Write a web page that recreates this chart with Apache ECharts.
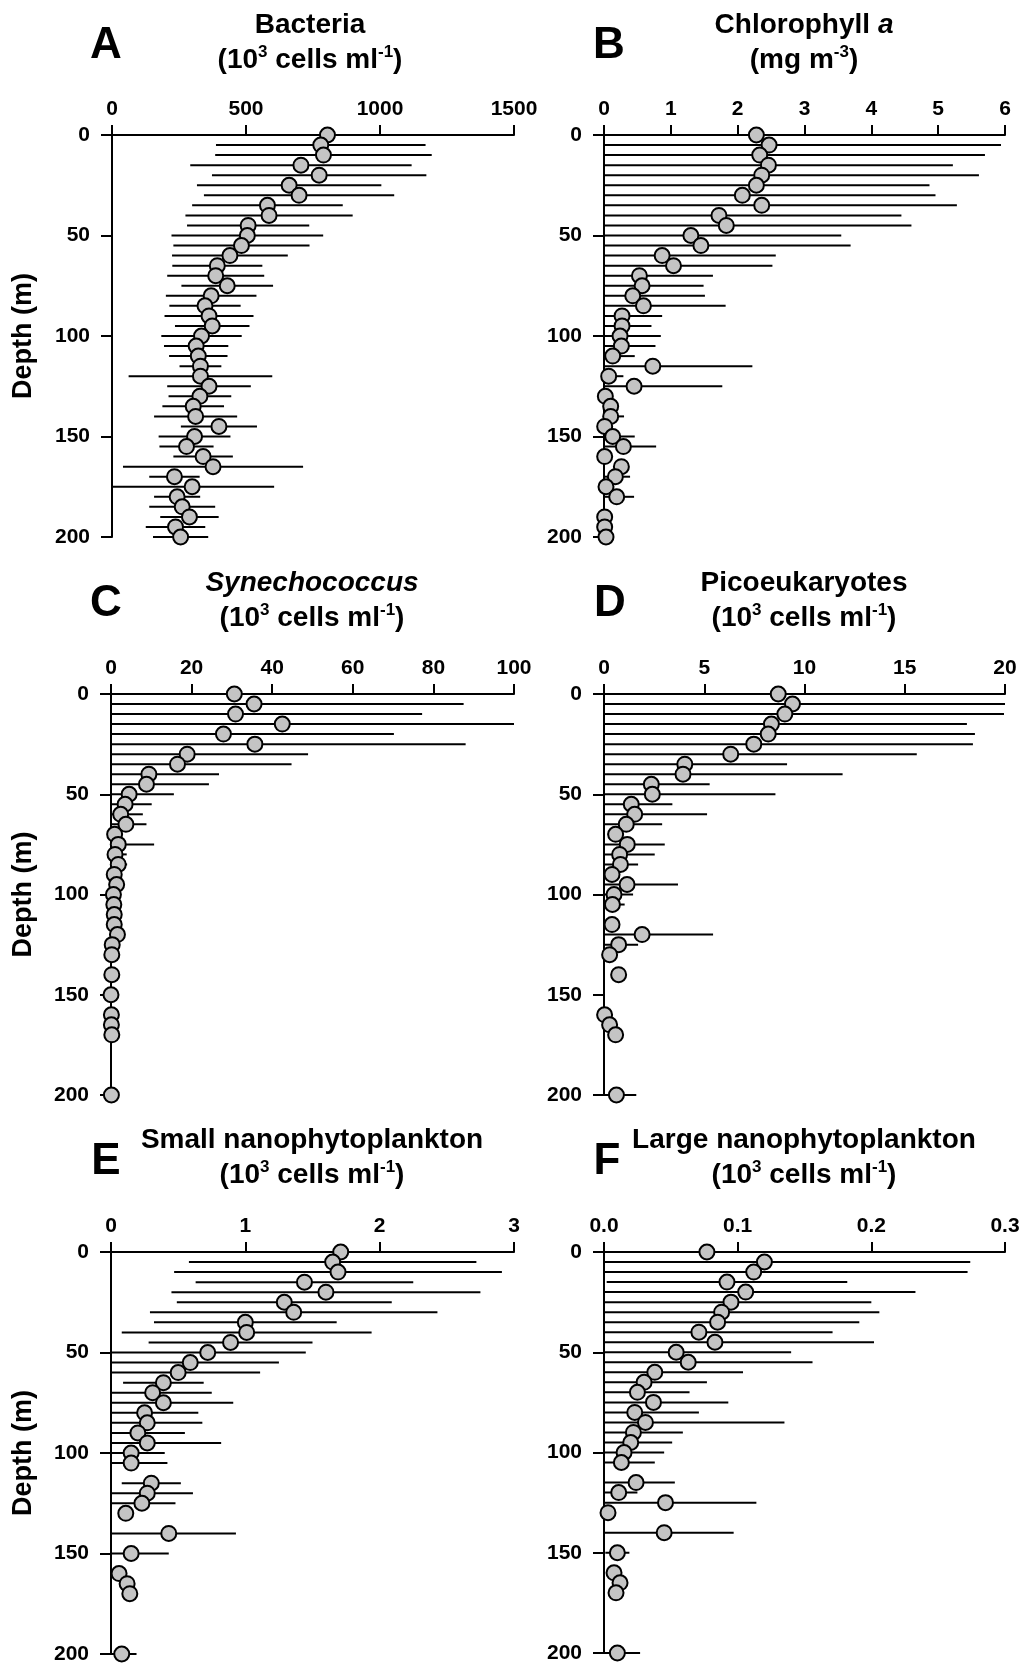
<!DOCTYPE html>
<html>
<head>
<meta charset="utf-8">
<script src="https://cdn.jsdelivr.net/npm/echarts@6.0.0/dist/echarts.min.js"></script>
<style>
html,body{margin:0;padding:0;background:#fff;}
#chart{width:1025px;height:1663px;}
</style>
</head>
<body>
<div id="chart"></div>
<script>
// ---------------- DATA ----------------
// A: Bacteria (10^3 cells ml-1)
var bactDepth = [0,5,10,15,20,25,30,35,40,45,50,55,60,65,70,75,80,85,90,95,100,105,110,115,120,125,130,135,140,145,150,155,160,165,170,175,180,185,190,195,200];
var bactMean  = [804,779,789,705,773,661,698,580,586,508,505,483,440,393,387,430,370,347,362,374,334,314,322,330,330,362,328,303,312,399,308,278,340,377,233,299,243,262,289,237,256];
var bactSd    = [null,391,404,413,400,344,355,281,312,228,283,254,216,168,181,171,169,133,166,139,150,120,109,78,268,156,117,115,155,142,134,101,111,336,94,306,86,123,109,111,103];

// B: Chlorophyll a (mg m-3)
var chlDepth = [0,5,10,15,20,25,30,35,40,45,50,55,60,65,70,75,80,85,90,95,100,105,110,115,120,125,130,135,140,145,150,155,160,165,170,175,180,190,195,200];
var chlMean  = [2.28,2.47,2.33,2.46,2.36,2.28,2.07,2.36,1.72,1.83,1.30,1.45,0.87,1.04,0.53,0.57,0.43,0.59,0.27,0.27,0.24,0.26,0.13,0.73,0.07,0.45,0.02,0.10,0.10,0.01,0.13,0.29,0.01,0.26,0.17,0.03,0.19,0.01,0.01,0.03];
var chlSd    = [null,3.47,3.37,2.76,3.25,2.59,2.89,2.92,2.73,2.77,2.25,2.24,1.70,1.48,1.10,0.92,1.08,1.23,0.60,0.44,0.61,0.51,0.33,1.49,0.22,1.32,0.05,0.08,0.20,0.05,0.33,0.49,0.05,0.10,0.22,0.05,0.26,0.03,0.03,0.05];

// C: Synechococcus (10^3 cells ml-1)
var synDepth = [0,5,10,15,20,25,30,35,40,45,50,55,60,65,70,75,80,85,90,95,100,105,110,115,120,125,130,140,150,160,165,170,200];
var synMean  = [30.6,35.5,30.9,42.5,27.9,35.7,18.9,16.5,9.4,8.8,4.5,3.5,2.4,3.7,0.9,1.8,1.0,1.8,0.8,1.4,0.6,0.7,0.8,0.8,1.6,0.3,0.2,0.2,0.0,0.1,0.1,0.2,0.1];
var synSd    = [44.8,52.0,46.3,57.5,42.3,52.3,30.0,28.3,17.4,15.5,11.1,6.6,5.5,5.1,1.0,8.9,2.9,2.2,1.0,1.0,1.0,1.0,1.0,1.0,1.0,0.5,0.5,0.5,0.5,0.5,0.5,0.5,0.5];

// D: Picoeukaryotes (10^3 cells ml-1)
var picoDepth = [0,5,10,15,20,25,30,35,40,45,50,55,60,65,70,75,80,85,90,95,100,105,115,120,125,130,140,160,165,170,200];
var picoMean  = [8.69,9.40,9.02,8.35,8.19,7.47,6.32,4.03,3.94,2.36,2.41,1.36,1.53,1.11,0.58,1.16,0.78,0.82,0.40,1.15,0.50,0.42,0.40,1.90,0.73,0.28,0.73,0.03,0.28,0.58,0.62];
var picoSd    = [null,10.7,10.93,9.75,10.31,10.93,9.28,5.10,7.96,2.91,6.14,2.05,3.61,1.79,0.4,1.87,1.75,0.88,0.3,2.54,0.95,0.61,0.3,3.54,0.97,0.2,0.3,0.1,0.2,0.3,0.99];

// E: Small nanophytoplankton (10^3 cells ml-1)
var snanoDepth = [0,5,10,15,20,25,30,35,40,45,50,55,60,65,70,75,80,85,90,95,100,105,115,120,125,130,140,150,160,165,170,200];
var snanoMean  = [1.71,1.65,1.69,1.44,1.60,1.29,1.36,1.00,1.01,0.89,0.72,0.59,0.50,0.39,0.31,0.39,0.25,0.27,0.20,0.27,0.15,0.15,0.30,0.27,0.23,0.11,0.43,0.15,0.06,0.12,0.14,0.08];
var snanoSd    = [1.52,1.07,1.22,0.81,1.15,0.80,1.07,0.68,0.93,0.61,0.73,0.66,0.61,0.30,0.44,0.52,0.40,0.41,0.35,0.55,0.25,0.27,0.22,0.34,0.25,0.05,0.50,0.28,0.03,0.03,0.03,0.11];

// F: Large nanophytoplankton (10^3 cells ml-1)
var lnanoDepth = [0,5,10,15,20,25,30,35,40,45,50,55,60,65,70,75,80,85,90,95,100,105,115,120,125,130,140,150,160,165,170,200];
var lnanoMean  = [0.077,0.120,0.112,0.092,0.106,0.095,0.088,0.085,0.071,0.083,0.054,0.063,0.038,0.030,0.025,0.037,0.023,0.031,0.022,0.020,0.015,0.013,0.024,0.011,0.046,0.003,0.045,0.010,0.0075,0.012,0.009,0.010];
var lnanoSd    = [0.104,0.154,0.160,0.090,0.127,0.105,0.118,0.106,0.100,0.119,0.086,0.093,0.066,0.047,0.039,0.056,0.048,0.104,0.037,0.031,0.030,0.025,0.029,0.014,0.068,0.002,0.052,0.009,0.003,0.003,0.003,0.017];

// Axis ticks
var depthTicks = [0, 50, 100, 150, 200];
var bactTicks  = [0, 500, 1000, 1500];
var chlTicks   = [0, 1, 2, 3, 4, 5, 6];
var synTicks   = [0, 20, 40, 60, 80, 100];
var picoTicks  = [0, 5, 10, 15, 20];
var snanoTicks = [0, 1, 2, 3];
var lnanoTicks = [0.0, 0.1, 0.2, 0.3];

// ---------------- LAYOUT / STYLE ----------------
var FONT = '"Liberation Sans", Arial, Helvetica, sans-serif';
var panels = [
  {depth:bactDepth, mean:bactMean, sd:bactSd, ticks:bactTicks, dec:0,
   grid:{left:112, top:135, width:402, height:402}, letter:'A', lx:106, ly:46,
   t1:'{t|Bacteria}', t2:'{t|(10}{sup|3}{t| cells ml}{sup|-1}{t|)}', tx:310, ty:25, yName:true},
  {depth:chlDepth, mean:chlMean, sd:chlSd, ticks:chlTicks, dec:0,
   grid:{left:604, top:135, width:401, height:402}, letter:'B', lx:609, ly:46,
   t1:'{t|Chlorophyll }{ti|a}', t2:'{t|(mg m}{sup|-3}{t|)}', tx:804, ty:25, yName:false},
  {depth:synDepth, mean:synMean, sd:synSd, ticks:synTicks, dec:0,
   grid:{left:111, top:694, width:403, height:401}, letter:'C', lx:106, ly:604,
   t1:'{ti|Synechococcus}', t2:'{t|(10}{sup|3}{t| cells ml}{sup|-1}{t|)}', tx:312, ty:583, yName:true},
  {depth:picoDepth, mean:picoMean, sd:picoSd, ticks:picoTicks, dec:0,
   grid:{left:604, top:694, width:401, height:401}, letter:'D', lx:610, ly:604,
   t1:'{t|Picoeukaryotes}', t2:'{t|(10}{sup|3}{t| cells ml}{sup|-1}{t|)}', tx:804, ty:583, yName:false},
  {depth:snanoDepth, mean:snanoMean, sd:snanoSd, ticks:snanoTicks, dec:0,
   grid:{left:111, top:1252, width:403, height:402}, letter:'E', lx:106, ly:1162,
   t1:'{t|Small nanophytoplankton}', t2:'{t|(10}{sup|3}{t| cells ml}{sup|-1}{t|)}', tx:312, ty:1140, yName:true},
  {depth:lnanoDepth, mean:lnanoMean, sd:lnanoSd, ticks:lnanoTicks, dec:1,
   grid:{left:604, top:1252, width:401, height:401}, letter:'F', lx:607, ly:1162,
   t1:'{t|Large nanophytoplankton}', t2:'{t|(10}{sup|3}{t| cells ml}{sup|-1}{t|)}', tx:804, ty:1140, yName:false}
];

var rich = {
  t:   {fontFamily:FONT, fontSize:28, fontWeight:'bold', color:'#000', lineHeight:32},
  ti:  {fontFamily:FONT, fontSize:28, fontWeight:'bold', fontStyle:'italic', color:'#000', lineHeight:32},
  sup: {fontFamily:FONT, fontSize:17, fontWeight:'bold', color:'#000', lineHeight:17, verticalAlign:'top'}
};

var grids = [], xAxes = [], yAxes = [], series = [], graphics = [];

panels.forEach(function (p, i) {
  var xMin = p.ticks[0], xMax = p.ticks[p.ticks.length - 1];
  var xInt = p.ticks[1] - p.ticks[0];
  var g = p.grid;
  grids.push({left:g.left, top:g.top, width:g.width, height:g.height, containLabel:false, outerBoundsMode:'none'});
  xAxes.push({
    type:'value', gridIndex:i, position:'top', min:xMin, max:xMax, interval:xInt,
    axisLine:{show:true, lineStyle:{color:'#000', width:2}},
    axisTick:{show:true, inside:false, length:10, lineStyle:{color:'#000', width:2}},
    axisLabel:{show:true, margin:15, color:'#000', fontFamily:FONT, fontSize:21, fontWeight:'bold',
      formatter:(function (dec) { return function (v) { return Number(v).toFixed(dec); }; })(p.dec)},
    splitLine:{show:false}
  });
  yAxes.push({
    type:'value', gridIndex:i, inverse:true, min:depthTicks[0], max:depthTicks[depthTicks.length-1],
    interval:depthTicks[1]-depthTicks[0],
    axisLine:{show:true, lineStyle:{color:'#000', width:2}},
    axisTick:{show:true, inside:false, length:11, lineStyle:{color:'#000', width:2}},
    axisLabel:{show:true, margin:22, color:'#000', fontFamily:FONT, fontSize:21, fontWeight:'bold'},
    splitLine:{show:false}
  });

  var errData = [], ptData = [];
  for (var k = 0; k < p.depth.length; k++) {
    ptData.push([p.mean[k], p.depth[k]]);
    if (p.sd[k] != null) errData.push([p.mean[k], p.depth[k], p.sd[k]]);
  }
  series.push({
    type:'custom', xAxisIndex:i, yAxisIndex:i, z:2, silent:true,
    encode:{x:0, y:1},
    renderItem:(function (lo0, hi0) {
      return function (params, api) {
        var m = api.value(0), d = api.value(1), s = api.value(2);
        var lo = Math.max(lo0, m - s), hi = Math.min(hi0, m + s);
        var p1 = api.coord([lo, d]), p2 = api.coord([hi, d]);
        return {type:'line', shape:{x1:p1[0], y1:p1[1], x2:p2[0], y2:p2[1]},
                style:{stroke:'#000', lineWidth:2}};
      };
    })(xMin, xMax),
    data:errData
  });
  series.push({
    type:'scatter', xAxisIndex:i, yAxisIndex:i, z:3, silent:true,
    symbol:'circle', symbolSize:15,
    itemStyle:{color:'#c4c4c4', borderColor:'#000', borderWidth:2, opacity:1},
    data:ptData
  });

  graphics.push({type:'text', x:p.lx, y:p.ly, silent:true,
    style:{text:p.letter, fontFamily:FONT, fontSize:44, fontWeight:'bold', fill:'#000', align:'center', verticalAlign:'middle'}});
  graphics.push({type:'text', x:p.tx, y:p.ty, silent:true,
    style:{text:p.t1, rich:rich, align:'center', verticalAlign:'middle'}});
  graphics.push({type:'text', x:p.tx, y:p.ty + 35, silent:true,
    style:{text:p.t2, rich:rich, align:'center', verticalAlign:'middle'}});
  if (p.yName) {
    graphics.push({type:'text', x:24, y:g.top + g.height / 2, rotation:Math.PI / 2, silent:true,
      style:{text:'Depth (m)', fontFamily:FONT, fontSize:27, fontWeight:'bold', fill:'#000', align:'center', verticalAlign:'middle'}});
  }
});

var chart = echarts.init(document.getElementById('chart'), null, {renderer:'canvas'});
chart.setOption({
  animation:false,
  backgroundColor:'#fff',
  grid:grids, xAxis:xAxes, yAxis:yAxes, series:series, graphic:graphics
});
</script>
</body>
</html>
